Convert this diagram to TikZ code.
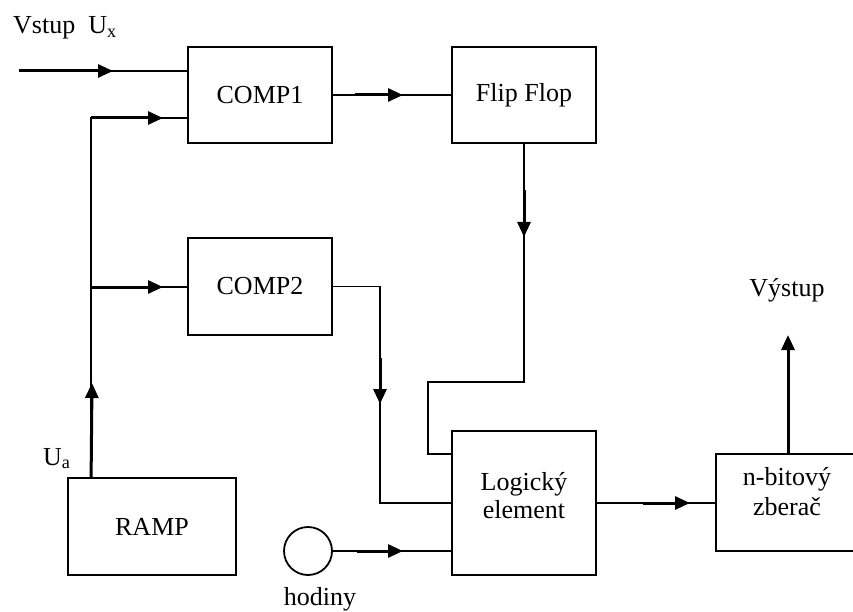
\documentclass[tikz,border=0pt]{standalone}
\usepackage{fontspec}
\setmainfont{Liberation Serif}
\usetikzlibrary{arrows.meta,calc}
\begin{document}
\begin{tikzpicture}[x=1pt,y=-1pt,
  lbl/.style={font=\fontsize{26}{28}\selectfont, inner sep=0pt},
  blk/.style={draw, line width=1.8pt, font=\fontsize{26}{28}\selectfont, align=center, inner sep=2pt},
  wire/.style={line width=1.8pt},
  thk/.style={line width=3pt, -{Triangle[length=15pt,width=13pt]}}
]
\useasboundingbox (0,0) rectangle (853,612);
\clip (0,0) rectangle (853,612);

% blocks
\node[blk, minimum width=144, minimum height=96] (c1) at (260,95) {COMP1};
\node[blk, minimum width=144, minimum height=96] (ff) at (524,95) {Flip Flop};
\node[blk, minimum width=144, minimum height=97] (c2) at (260,286.5) {COMP2};
\node[blk, minimum width=168, minimum height=97] (ramp) at (152,526.5) {RAMP};
\node[blk, minimum width=144, minimum height=144] (logic) at (524,503) {};
\node[blk, minimum width=144, minimum height=97] (nbit) at (788,502.5) {};
\node[draw, circle, line width=1.8pt, minimum size=48, inner sep=0pt] (clk) at (308,551) {};

% block texts
\node[lbl, anchor=base] (logic-t1) at (524,490) {Logický};
\node[lbl, anchor=base] (logic-t2) at (524,518) {element};
\node[lbl, anchor=base] (nbit-t1) at (787,485) {n-bitový};
\node[lbl, anchor=base] (nbit-t2) at (787,515) {zberač};

% labels
\node[lbl, anchor=base west] (vin-l) at (13,34) {Vstup\ \ U\textsubscript{x}};
\node[lbl, anchor=base west] (ua-l) at (43,465) {U\textsubscript{a}};
\node[lbl, anchor=base] (out-l) at (787,296) {Výstup};
\node[lbl, anchor=base] (clk-l) at (320,605) {hodiny};

% coordinates
\coordinate (vin) at (19,71);
\coordinate (r0) at ($(ramp.north west)+(24,0)$);
\coordinate (r1) at (r0 |- 0,118);
\coordinate (r2) at (r0 |- 0,287);
\coordinate (f1) at (ff.south |- 0,382);
\coordinate (f2) at (428,382);
\coordinate (k1) at (380,0);
\coordinate (vout) at (nbit.north |- 0,335);

% thin wires
\draw[wire] (vin) -- (vin -| c1.west);
\draw[wire] (r0) -- (r1) -- (r1 -| c1.west);
\draw[wire] (r2) -- (r2 -| c2.west);
\draw[wire] (c1.east) -- (ff.west);
\draw[wire] (ff.south) -- (f1) -- (f2) -- (f2 |- 0,454) -- (logic.west |- 0,454);
\draw[wire] (c2.east) -- (k1 |- c2.east) -- (k1 |- 0,503) -- (logic.west |- 0,503);
\draw[wire] (clk.east) -- (clk.east -| logic.west);
\draw[wire] (logic.east) -- (logic.east -| nbit.west);

% thick arrow segments
\draw[thk] (vin) -- (113,71);
\draw[thk] (r1) -- (163,118);
\draw[thk] (r2) -- (163,287);
\draw[thk] (355,95) -- (403,95);
\draw[thk] (524,190) -- (524,237);
\draw[thk] (380,358) -- (380,404);
\draw[thk] (357,551) -- (403,551);
\draw[thk] (643,503) -- (690,503);
\draw[thk] (nbit.north) -- (vout);
\draw[thk] (r0) -- (92,383);
\end{tikzpicture}
\end{document}
